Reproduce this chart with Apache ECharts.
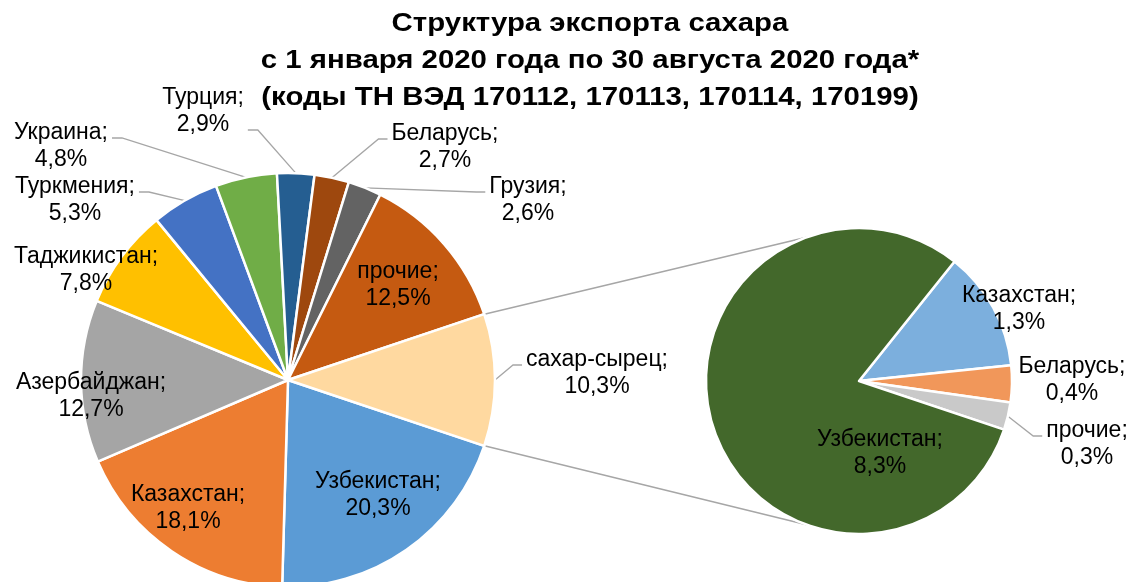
<!DOCTYPE html>
<html>
<head>
<meta charset="utf-8">
<script src="https://cdn.jsdelivr.net/npm/echarts@6/dist/echarts.min.js"></script>
<style>
  html, body { margin: 0; padding: 0; background: #fff; }
  #chart { width: 1131px; height: 582px; }
</style>
</head>
<body>
<div id="chart"></div>
<script>
// data
const titleText = 'Структура экспорта сахара\nс 1 января 2020 года по 30 августа 2020 года*\n(коды ТН ВЭД 170112, 170113, 170114, 170199)';
const mainNames = ['Узбекистан', 'Казахстан', 'Азербайджан', 'Таджикистан', 'Туркмения', 'Украина', 'Турция', 'Беларусь', 'Грузия', 'прочие', 'сахар-сырец'];
const mainValues = [20.3, 18.1, 12.7, 7.8, 5.3, 4.8, 2.9, 2.7, 2.6, 12.5, 10.3];
const rawNames = ['Казахстан', 'Беларусь', 'прочие', 'Узбекистан'];
const rawValues = [1.3, 0.4, 0.3, 8.3];

// styles
const mainColors = ['#5b9bd5', '#ed7d31', '#a5a5a5', '#ffc000', '#4472c4', '#70ad47', '#255e91', '#9e480e', '#636363', '#c55a11', '#ffd9a0'];
const rawColors = ['#7cafdd', '#f1975a', '#c9c9c9', '#43682b'];
const mainOutside = ['Туркмения', 'Украина', 'Турция', 'Беларусь', 'Грузия', 'сахар-сырец'];
const rawOutside = ['прочие'];
const mainLabelPos = {
  'Узбекистан': [378, 495], 'Казахстан': [188, 508], 'Азербайджан': [91, 396],
  'Таджикистан': [86, 270], 'Туркмения': [75, 200], 'Украина': [61, 146],
  'Турция': [203, 111], 'Беларусь': [445, 147], 'Грузия': [528, 200],
  'прочие': [398, 285], 'сахар-сырец': [597, 373]
};
const rawLabelPos = {
  'Казахстан': [1019, 309], 'Беларусь': [1072, 380], 'прочие': [1087, 444], 'Узбекистан': [880, 453]
};
// leader line hits the label at this offset from label top
const lineHit = { 'Турция': 46 };
const C1 = [288, 380], R1 = 207;
const C2 = [859, 381], R2 = 153;

const fmt = v => v.toFixed(1).replace('.', ',');
const total = mainValues.reduce((a, b) => a + b, 0);
const splitVal = mainValues[mainValues.length - 1];
const half = splitVal / total * 180;
const rawTotal = rawValues.reduce((a, b) => a + b, 0);
const smallSum = rawValues.slice(0, 3).reduce((a, b) => a + b, 0);
const rawStart = smallSum / rawTotal * 360 - half;

const FONT = 'Liberation Sans, Arial, sans-serif';
const labelFont = { fontFamily: FONT, fontSize: 23, lineHeight: 27, color: '#000' };

function makeData(names, values, colors, outside) {
  return names.map((n, i) => ({
    name: n,
    value: values[i],
    itemStyle: { color: colors[i] },
    label: { position: outside.includes(n) ? 'outside' : 'inside' },
    labelLine: { show: outside.includes(n) }
  }));
}

function layoutFor(posMap, names, outside) {
  return function (p) {
    const name = names[p.dataIndex];
    const pos = posMap[name];
    const out = { x: pos[0], y: pos[1], align: 'center', verticalAlign: 'middle' };
    if (outside.includes(name) && p.labelLinePoints) {
      const w = p.labelRect.width, h = p.labelRect.height;
      const start = p.labelLinePoints[0];
      const leftSide = pos[0] < start[0];
      const ey = pos[1] - h / 2 + (lineHit[name] || 19);
      const ex = leftSide ? pos[0] + w / 2 + 4 : pos[0] - w / 2 - 4;
      const bx = leftSide ? ex + 10 : ex - 9;
      out.labelLinePoints = [start, [bx, ey], [ex, ey]];
    }
    return out;
  };
}

// connector lines between the split slice and the second pie
const a1 = half * Math.PI / 180;
const a2 = 110 * Math.PI / 180;
const topA = [C1[0] + R1 * Math.cos(a1), C1[1] - R1 * Math.sin(a1)];
const botA = [C1[0] + R1 * Math.cos(a1), C1[1] + R1 * Math.sin(a1)];
const topB = [C2[0] + R2 * Math.cos(a2), C2[1] - R2 * Math.sin(a2)];
const botB = [C2[0] + R2 * Math.cos(a2), C2[1] + R2 * Math.sin(a2)];

const chart = echarts.init(document.getElementById('chart'));
chart.setOption({
  animation: false,
  backgroundColor: '#fff',
  graphic: [
    {
      type: 'text', x: 590, y: 5, scaleX: 1.13,
      style: {
        text: titleText, textAlign: 'center', textVerticalAlign: 'top',
        fontFamily: FONT, fontSize: 26, fontWeight: 'bold', lineHeight: 37, fill: '#000'
      }
    },
    { type: 'line', z: -1, shape: { x1: topA[0], y1: topA[1], x2: topB[0], y2: topB[1] }, style: { stroke: '#a6a6a6', lineWidth: 1.5 } },
    { type: 'line', z: -1, shape: { x1: botA[0], y1: botA[1], x2: botB[0], y2: botB[1] }, style: { stroke: '#a6a6a6', lineWidth: 1.5 } }
  ],
  series: [
    {
      type: 'pie',
      center: C1,
      radius: [0, R1],
      startAngle: -half,
      clockwise: true,
      avoidLabelOverlap: false,
      itemStyle: { borderColor: '#fff', borderWidth: 2.5 },
      label: Object.assign({ formatter: p => p.name + ';\n' + fmt(p.value) + '%' }, labelFont),
      labelLine: { lineStyle: { color: '#a6a6a6', width: 1.3 }, length: 15, length2: 10 },
      labelLayout: layoutFor(mainLabelPos, mainNames, mainOutside),
      emphasis: { disabled: true },
      data: makeData(mainNames, mainValues, mainColors, mainOutside)
    },
    {
      type: 'pie',
      center: C2,
      radius: [0, R2],
      startAngle: rawStart,
      clockwise: true,
      avoidLabelOverlap: false,
      itemStyle: { borderColor: '#fff', borderWidth: 2.5 },
      label: Object.assign({ formatter: p => p.name + ';\n' + fmt(p.value) + '%' }, labelFont),
      labelLine: { lineStyle: { color: '#a6a6a6', width: 1.3 }, length: 15, length2: 10 },
      labelLayout: layoutFor(rawLabelPos, rawNames, rawOutside),
      emphasis: { disabled: true },
      data: makeData(rawNames, rawValues, rawColors, rawOutside)
    }
  ]
});
</script>
</body>
</html>
